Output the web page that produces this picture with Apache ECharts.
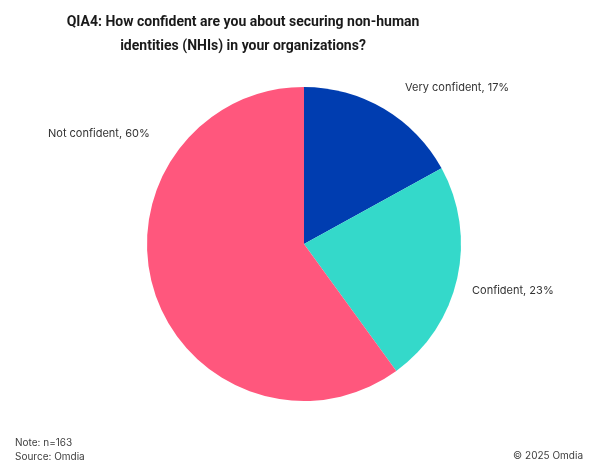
<!DOCTYPE html>
<html>
<head>
<meta charset="utf-8">
<script src="https://cdn.jsdelivr.net/npm/echarts@6/dist/echarts.min.js"></script>
<style>
  html, body { margin: 0; padding: 0; background: #fff; }
  #main { width: 598px; height: 472px; }
</style>
</head>
<body>
<div id="main"></div>
<script>
// data
var categories = ['Very confident', 'Confident', 'Not confident'];
var values = [17, 23, 60];
var colors = ['#003DB0', '#34D9CA', '#FF577D'];

// label anchor positions (top-left, px) as drawn in the original
var labelSpots = [[405, 82], [472, 285], [48, 128]];

var myChart = echarts.init(document.getElementById('main'));

var pieData = [];
for (var i = 0; i < categories.length; i++) {
    pieData.push({
        name: categories[i],
        value: values[i],
        itemStyle: { color: colors[i] }
    });
}

var option = {
    backgroundColor: '#ffffff',
    animation: false,
    title: [
        {
            text: 'QIA4: How confident are you about securing non-human\nidentities (NHIs) in your organizations?',
            left: 238,
            top: 5,
            textAlign: 'center',
            textStyle: {
                fontFamily: 'Roboto, sans-serif',
                fontSize: 14,
                fontWeight: 'bold',
                color: '#1a1a1a',
                lineHeight: 24
            }
        },
        {
            text: 'Note: n=163\nSource: Omdia',
            left: 10,
            top: 431,
            textStyle: {
                fontFamily: 'Inter, sans-serif',
                fontSize: 10,
                fontWeight: 'normal',
                color: '#404040',
                lineHeight: 14
            }
        },
        {
            text: '\u00a9 2025 Omdia',
            right: 10,
            top: 446,
            textStyle: {
                fontFamily: 'Inter, sans-serif',
                fontSize: 10,
                fontWeight: 'normal',
                color: '#404040'
            }
        }
    ],
    series: [
        {
            type: 'pie',
            center: [304, 244],
            radius: 157,
            startAngle: 90,
            clockwise: true,
            data: pieData,
            label: {
                show: true,
                position: 'outside',
                formatter: '{b}, {c}%',
                fontFamily: 'Inter, sans-serif',
                fontSize: 11,
                color: '#333333',
                overflow: 'none',
                width: 200
            },
            labelLine: { show: false },
            labelLayout: function (params) {
                var p = labelSpots[params.dataIndex];
                return { x: p[0], y: p[1], align: 'left', verticalAlign: 'top' };
            },
            emphasis: { disabled: true }
        }
    ]
};

myChart.setOption(option);
</script>
</body>
</html>
